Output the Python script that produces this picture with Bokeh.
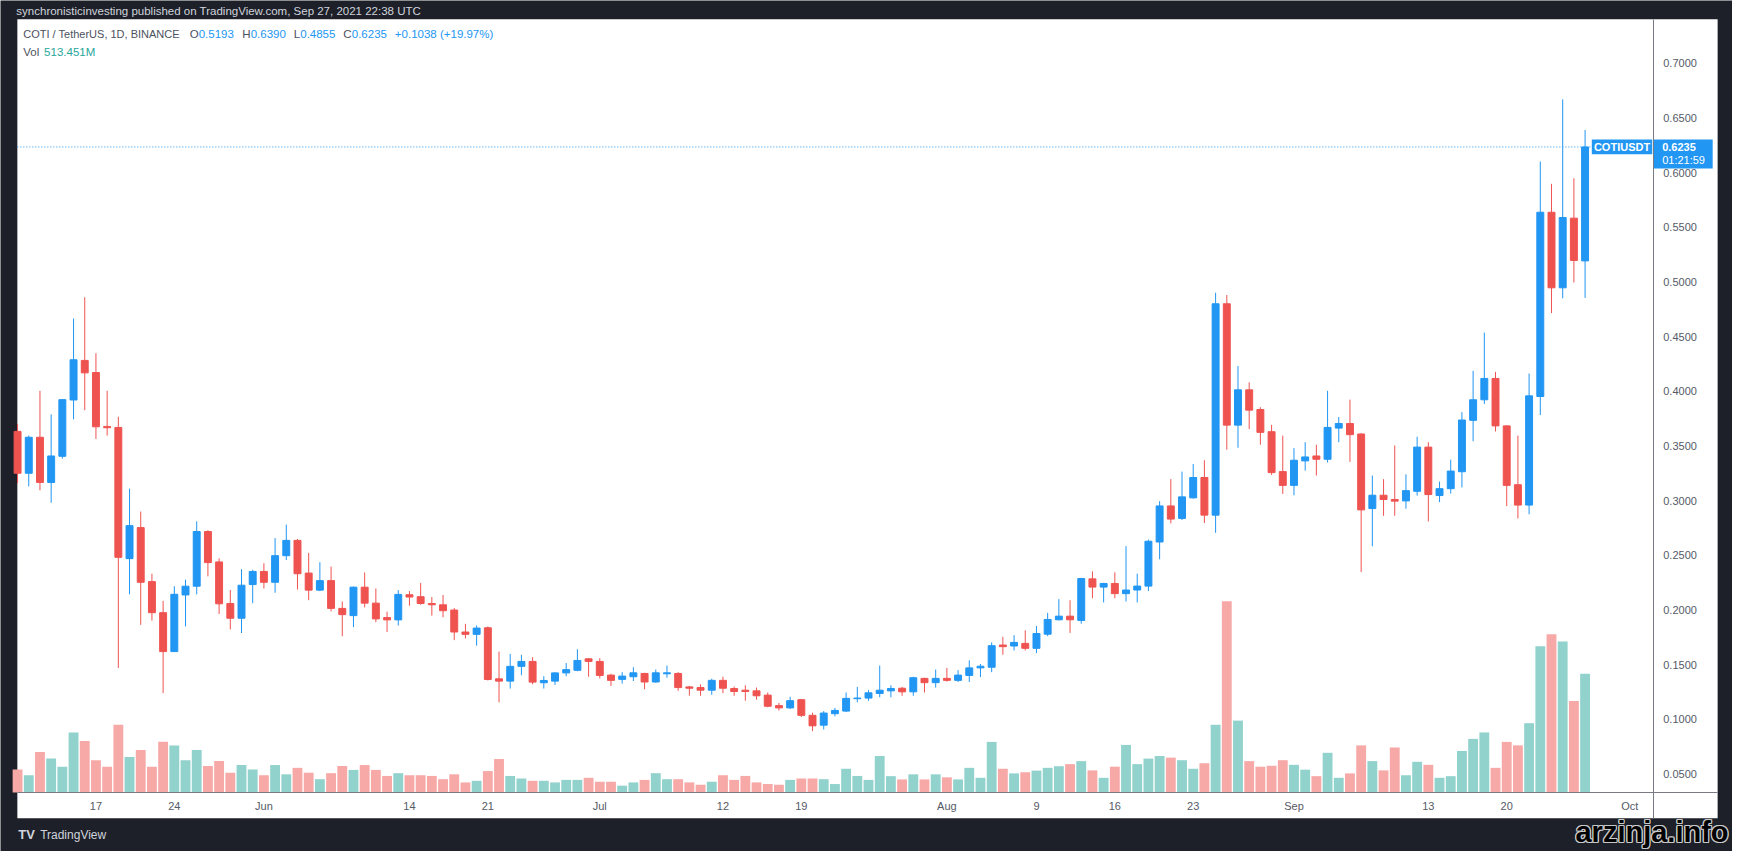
import pandas as pd
from bokeh.plotting import figure
from bokeh.models import (Range1d, LinearAxis, FixedTicker, ColumnDataSource,
                          Label, PrintfTickFormatter)
from bokeh.embed import file_html
from bokeh.resources import INLINE

# ---------------- data (COTI / TetherUS, 1D, BINANCE) ----------------
first_date = "2021-05-10"
last_date = "2021-09-27"

opens = [
    0.3634, 0.3251, 0.3580, 0.3167, 0.3406, 0.3921, 0.4283, 0.4172, 0.3679, 0.3670,
    0.2470, 0.2754, 0.2260, 0.1976, 0.1620, 0.2138, 0.2218, 0.2718, 0.2440, 0.2060,
    0.1925, 0.2233,
    0.2353, 0.2254, 0.2497, 0.2637, 0.2338, 0.2182, 0.2269, 0.2015, 0.1949, 0.2209,
    0.2063, 0.1931, 0.1910, 0.2140, 0.2122, 0.2060, 0.2048, 0.2000, 0.1799, 0.1778,
    0.1838, 0.1371, 0.1350, 0.1485, 0.1530, 0.1335, 0.1350, 0.1425, 0.1449, 0.1554,
    0.1530, 0.1405, 0.1366, 0.1390, 0.1420, 0.1342, 0.1417, 0.1420, 0.1297, 0.1291,
    0.1267, 0.1357, 0.1282, 0.1267, 0.1261, 0.1222, 0.1126, 0.1105, 0.1180, 0.1037,
    0.0947, 0.1052, 0.1076, 0.1189, 0.1195, 0.1237, 0.1261, 0.1285, 0.1252, 0.1375,
    0.1336,
    0.1375, 0.1357, 0.1402, 0.1471, 0.1477, 0.1680, 0.1671, 0.1695, 0.1650, 0.1779,
    0.1911, 0.1944, 0.1905, 0.2285, 0.2210, 0.2243, 0.2150, 0.2183, 0.2219, 0.2622,
    0.2952, 0.2838, 0.3026, 0.3212, 0.2868, 0.4801, 0.3691, 0.4014, 0.3834, 0.3631,
    0.3266,
    0.3140, 0.3364, 0.3409, 0.3379, 0.3664, 0.3706, 0.3610, 0.2928, 0.3050, 0.3011,
    0.2998, 0.3086, 0.3490, 0.3047, 0.3110, 0.3265, 0.3735, 0.3923, 0.4118, 0.3684,
    0.3146, 0.2960, 0.3953, 0.5638, 0.4947, 0.5584, 0.5193,
]
highs = [
    0.3700, 0.3595, 0.4005, 0.3789, 0.3930, 0.4666, 0.4861, 0.4349, 0.4005, 0.3768,
    0.3110, 0.2901, 0.2332, 0.2084, 0.2218, 0.2278, 0.2811, 0.2730, 0.2473, 0.2183,
    0.2374, 0.2368,
    0.2428, 0.2658, 0.2781, 0.2650, 0.2523, 0.2437, 0.2398, 0.2078, 0.2215, 0.2344,
    0.2197, 0.1985, 0.2182, 0.2173, 0.2248, 0.2119, 0.2137, 0.2018, 0.1874, 0.1859,
    0.1850, 0.1620, 0.1599, 0.1590, 0.1569, 0.1395, 0.1430, 0.1515, 0.1641, 0.1560,
    0.1560, 0.1417, 0.1432, 0.1477, 0.1426, 0.1456, 0.1492, 0.1432, 0.1306, 0.1321,
    0.1372, 0.1390, 0.1300, 0.1312, 0.1291, 0.1246, 0.1150, 0.1207, 0.1186, 0.1061,
    0.1076, 0.1105, 0.1246, 0.1297, 0.1267, 0.1492, 0.1312, 0.1297, 0.1390, 0.1381,
    0.1456,
    0.1471, 0.1450, 0.1540, 0.1507, 0.1704, 0.1755, 0.1770, 0.1815, 0.1854, 0.1974,
    0.2099, 0.2090, 0.2295, 0.2354, 0.2249, 0.2345, 0.2584, 0.2333, 0.2644, 0.2996,
    0.3197, 0.3266, 0.3335, 0.3370, 0.4902, 0.4881, 0.4232, 0.4083, 0.3855, 0.3694,
    0.3595,
    0.3481, 0.3535, 0.3511, 0.4005, 0.3766, 0.3924, 0.3616, 0.3230, 0.3197, 0.3505,
    0.3241, 0.3585, 0.3535, 0.3175, 0.3376, 0.3810, 0.4187, 0.4537, 0.4178, 0.3690,
    0.3595, 0.4163, 0.6102, 0.5898, 0.6670, 0.5949, 0.6390,
]
lows = [
    0.3160, 0.3131, 0.3095, 0.2981, 0.3385, 0.3744, 0.3828, 0.3565, 0.3595, 0.1470,
    0.2144, 0.1865, 0.1904, 0.1240, 0.1620, 0.1850, 0.2144, 0.2308, 0.1964, 0.1823,
    0.1790, 0.2063,
    0.2197, 0.2158, 0.2458, 0.2188, 0.2090, 0.2173, 0.1988, 0.1760, 0.1844, 0.2024,
    0.1889, 0.1799, 0.1859, 0.2039, 0.2048, 0.1949, 0.1934, 0.1725, 0.1740, 0.1674,
    0.1356, 0.1156, 0.1282, 0.1404, 0.1321, 0.1282, 0.1315, 0.1395, 0.1440, 0.1390,
    0.1375, 0.1306, 0.1327, 0.1351, 0.1276, 0.1336, 0.1381, 0.1261, 0.1216, 0.1216,
    0.1225, 0.1240, 0.1216, 0.1171, 0.1180, 0.1111, 0.1081, 0.1096, 0.1022, 0.0893,
    0.0908, 0.1028, 0.1067, 0.1156, 0.1170, 0.1202, 0.1202, 0.1216, 0.1216, 0.1246,
    0.1291,
    0.1345, 0.1342, 0.1342, 0.1387, 0.1432, 0.1591, 0.1630, 0.1630, 0.1606, 0.1761,
    0.1905, 0.1791, 0.1875, 0.2108, 0.2069, 0.2108, 0.2078, 0.2069, 0.2174, 0.2464,
    0.2793, 0.2823, 0.3020, 0.2796, 0.2706, 0.3466, 0.3484, 0.3655, 0.3511, 0.3236,
    0.3062,
    0.3050, 0.3275, 0.3230, 0.3349, 0.3535, 0.3355, 0.2347, 0.2583, 0.2862, 0.2862,
    0.2927, 0.3047, 0.2810, 0.2987, 0.3065, 0.3122, 0.3544, 0.3885, 0.3633, 0.2951,
    0.2837, 0.2876, 0.3783, 0.4716, 0.4851, 0.4995, 0.4855,
]
closes = [
    0.3251, 0.3580, 0.3167, 0.3409, 0.3924, 0.4289, 0.4169, 0.3676, 0.3667, 0.2482,
    0.2772, 0.2254, 0.1976, 0.1620, 0.2144, 0.2218, 0.2718, 0.2434, 0.2057, 0.1925,
    0.2227, 0.2353,
    0.2254, 0.2497, 0.2637, 0.2332, 0.2182, 0.2269, 0.2015, 0.1958, 0.2209, 0.2063,
    0.1919, 0.1910, 0.2143, 0.2119, 0.2060, 0.2048, 0.1994, 0.1799, 0.1778, 0.1835,
    0.1365, 0.1350, 0.1485, 0.1530, 0.1341, 0.1356, 0.1425, 0.1455, 0.1539, 0.1530,
    0.1402, 0.1357, 0.1396, 0.1426, 0.1342, 0.1426, 0.1426, 0.1291, 0.1285, 0.1267,
    0.1357, 0.1285, 0.1255, 0.1255, 0.1216, 0.1120, 0.1105, 0.1171, 0.1037, 0.0941,
    0.1058, 0.1082, 0.1192, 0.1195, 0.1243, 0.1267, 0.1282, 0.1252, 0.1381, 0.1336,
    0.1375,
    0.1357, 0.1405, 0.1471, 0.1486, 0.1674, 0.1665, 0.1704, 0.1650, 0.1785, 0.1914,
    0.1944, 0.1911, 0.2288, 0.2210, 0.2243, 0.2150, 0.2183, 0.2219, 0.2629, 0.2952,
    0.2832, 0.3035, 0.3212, 0.2868, 0.4801, 0.3691, 0.4014, 0.3828, 0.3625, 0.3257,
    0.3140,
    0.3370, 0.3400, 0.3379, 0.3670, 0.3706, 0.3604, 0.2916, 0.3050, 0.3011, 0.2996,
    0.3092, 0.3490, 0.3056, 0.3110, 0.3271, 0.3738, 0.3923, 0.4118, 0.3684, 0.3140,
    0.2960, 0.3959, 0.5638, 0.4947, 0.5590, 0.5197, 0.6235,
]
volumes_m = [  # millions
    100, 75, 175, 147, 112, 260, 223, 140, 112, 293,
    154, 184, 112, 220, 204, 140, 184, 115, 136, 86,
    119, 100,
    75, 119, 79, 107, 86, 58, 84, 115, 98, 119,
    98, 72, 84, 75, 75, 72, 58, 79, 44, 51,
    93, 145, 72, 61, 51, 51, 44, 55, 55, 64,
    47, 47, 30, 44, 55, 84, 58, 58, 44, 34,
    47, 75, 55, 72, 44, 37, 34, 55, 61, 61,
    58, 37, 103, 72, 55, 158, 71, 57, 79, 57,
    79,
    66, 57, 107, 64, 219, 103, 83, 88, 95, 107,
    114, 123, 136, 96, 64, 112, 206, 123, 147, 158,
    151, 140, 103, 127, 293, 827, 311, 136, 112, 116,
    140,
    120, 99, 71, 172, 64, 83, 204, 136, 96, 195,
    75, 133, 120, 64, 71, 180, 232, 260, 107, 219,
    204, 300, 632, 684, 653, 396, 513.451,
]

price_ticks = [0.05, 0.10, 0.15, 0.20, 0.25, 0.30, 0.35, 0.40, 0.45, 0.50,
               0.55, 0.60, 0.65, 0.70]
tick_dates = ["2021-05-17", "2021-05-24", "2021-06-01", "2021-06-14", "2021-06-21",
              "2021-07-01", "2021-07-12", "2021-07-19", "2021-08-01", "2021-08-09",
              "2021-08-16", "2021-08-23", "2021-09-01", "2021-09-13", "2021-09-20",
              "2021-10-01"]
tick_labels = ["17", "24", "Jun", "14", "21", "Jul", "12", "19", "Aug", "9", "16",
               "23", "Sep", "13", "20", "Oct"]

# ---------------- derived ----------------
dates = pd.date_range(first_date, last_date, freq="D")
n = len(dates)
assert n == len(opens) == len(highs) == len(lows) == len(closes) == len(volumes_m)
t0 = pd.Timestamp(first_date)
xs = [(d - t0).days for d in dates]

UP, DOWN = "#2196F3", "#EF5350"
VUP, VDOWN = "#92D2CC", "#F7A9A7"
up = [c >= o for o, c in zip(opens, closes)]
src = ColumnDataSource(dict(
    x=xs, open=opens, high=highs, low=lows, close=closes, vol=volumes_m,
    body_lo=[min(o, c) for o, c in zip(opens, closes)],
    body_hi=[max(o, c) for o, c in zip(opens, closes)],
    ccolor=[UP if u else DOWN for u in up],
    vcolor=[VUP if u else VDOWN for u in up],
))

# ---------------- layout geometry (in reference-picture pixels) ----------------
REF_W, REF_H = 1748, 867
FIG_W, FIG_H = 1732, 851
PX_DAY = 11.3                                 # pixels per day
FR_L, FR_R, FR_T, FR_B = 17, 1733, 19, 833    # white chart area
X_AT_L = -0.02                                # day index at the white area's left edge
P_REF, P_REF_Y, PX_PER_PRICE = 0.70, 64, 1114.0
AXIS_PX_X, AXIS_PX_Y = 1668, 807
VOL_PER_PX = 4.24                             # million per pixel


def xd(px):
    return X_AT_L + (px - FR_L) / PX_DAY


def yd(py):
    return P_REF - (py - P_REF_Y) / PX_PER_PRICE


DARK = "#1d2029"
AXIS_TXT = "#555a66"
LINE_C = "#787b86"
FONT = "Liberation Sans"

p = figure(frame_width=FIG_W, frame_height=FIG_H,
           x_range=Range1d(xd(0), xd(REF_W)),
           y_range=Range1d(yd(REF_H), yd(0)),
           output_backend="svg", toolbar_location=None,
           x_axis_location=None, y_axis_location=None, title_location=None,
           min_border=0, min_border_left=0, min_border_right=0,
           min_border_top=0, min_border_bottom=0,
           background_fill_color=DARK, border_fill_color=DARK,
           outline_line_color=None)
p.grid.visible = False
p.extra_y_ranges = {"vol": Range1d(-(REF_H - AXIS_PX_Y) * VOL_PER_PX,
                                   AXIS_PX_Y * VOL_PER_PX)}

# white chart area
p.quad(left=[xd(FR_L)], right=[xd(FR_R)], top=[yd(FR_T)], bottom=[yd(FR_B)],
       fill_color="white", line_color=None)

# volume
p.vbar(x="x", bottom=0, top="vol", width=0.88, fill_color="vcolor",
       line_color=None, y_range_name="vol", source=src)
# candles
p.segment(x0="x", y0="low", x1="x", y1="high", line_color="ccolor",
          line_width=1, source=src)
p.vbar(x="x", bottom="body_lo", top="body_hi", width=0.62, fill_color="ccolor",
       line_color="ccolor", line_width=1, source=src)

# last price line + tags
last = closes[-1]
p.segment(x0=[xd(FR_L)], y0=[last], x1=[xd(1606)], y1=[last],
          line_color="#2196F3", line_dash="1 2", line_width=1)
p.quad(left=[xd(1606)], right=[xd(1667)], top=[last + 7.5 / PX_PER_PRICE],
       bottom=[last - 7.5 / PX_PER_PRICE], fill_color="#2196F3", line_color=None)
p.quad(left=[xd(AXIS_PX_X)], right=[xd(1728)], top=[last + 7.5 / PX_PER_PRICE],
       bottom=[last - 22 / PX_PER_PRICE], fill_color="#2196F3", line_color=None)

# axes (price scale on the right, time scale at the bottom of the white area)
yax = LinearAxis(fixed_location=xd(AXIS_PX_X), ticker=FixedTicker(ticks=price_ticks),
                 formatter=PrintfTickFormatter(format="%.4f"),
                 bounds=(yd(FR_B), yd(FR_T)))
xax = LinearAxis(fixed_location=yd(AXIS_PX_Y),
                 ticker=FixedTicker(ticks=[(pd.Timestamp(d) - t0).days for d in tick_dates]),
                 major_label_overrides={(pd.Timestamp(d) - t0).days: lab
                                        for d, lab in zip(tick_dates, tick_labels)},
                 bounds=(xd(FR_L), xd(FR_R)))
for ax, standoff in ((yax, 10), (xax, 7)):
    ax.major_tick_in = 0
    ax.major_tick_out = 0
    ax.minor_tick_in = 0
    ax.minor_tick_out = 0
    ax.major_label_standoff = standoff
    ax.axis_line_color = LINE_C
    ax.axis_line_width = 1
    ax.major_label_text_font = FONT
    ax.major_label_text_font_size = "11px"
    ax.major_label_text_color = AXIS_TXT
p.add_layout(yax, "right")
p.add_layout(xax, "below")


def label(px, py, text, color, size="11.5px", bold=False, align="left", font=FONT):
    p.add_layout(Label(x=xd(px), y=yd(py), text=text, text_color=color,
                       text_font=font, text_font_size=size,
                       text_font_style="bold" if bold else "normal",
                       text_align=align, text_baseline="middle"))


# header & footer on the dark frame
label(16, 11, "synchronisticinvesting published on TradingView.com, Sep 27, 2021 22:38 UTC",
      "#d1d4dc", size="11.5px")
label(18, 850, "TV", "#d1d4dc", size="13px", bold=True)
label(40, 850, "TradingView", "#d1d4dc", size="12px")
# watermark: black letters with a thin light outline
WM_X, WM_Y, WM_SIZE = 1744, 847, "29px"
for dx, dy in ((-1.2, 0), (1.2, 0), (0, -1.2), (0, 1.2),
               (-1, -1), (1, 1), (-1, 1), (1, -1)):
    label(WM_X + dx, WM_Y + dy, "arzinja.info", "#c8c8c8", size=WM_SIZE, bold=True,
          align="right")
label(WM_X, WM_Y, "arzinja.info", "#000000", size=WM_SIZE, bold=True, align="right")

# legend
GRAY = "#4c525e"
BLUE = "#2196F3"
label(23, 34, "COTI / TetherUS, 1D, BINANCE", GRAY, size="11px")
hdr = [("O", 191, 9), ("H", 244, 8.5), ("L", 296, 6.5), ("C", 346, 8.5)]
vals = [opens[-1], highs[-1], lows[-1], closes[-1]]
for (k, px, off), v in zip(hdr, vals):
    label(px, 34, k, GRAY)
    label(px + off, 34, f"{v:.4f}", BLUE)
chg = closes[-1] - closes[-2]
label(398, 34, f"+{chg:.4f} (+{chg / closes[-2] * 100:.2f}%)", BLUE)
label(23, 52, "Vol", GRAY)
label(44, 52, f"{volumes_m[-1]:.3f}M", "#26a69a")

# price tag texts
label(1636.5, 149.5, "COTIUSDT", "white", size="11px", bold=True, align="center")
label(1677, 149.5, f"{last:.4f}", "white", size="11px", bold=True)
label(1677, 163, "01:21:59", "white", size="11px")

open("out.html", "w").write(file_html(p, INLINE))
